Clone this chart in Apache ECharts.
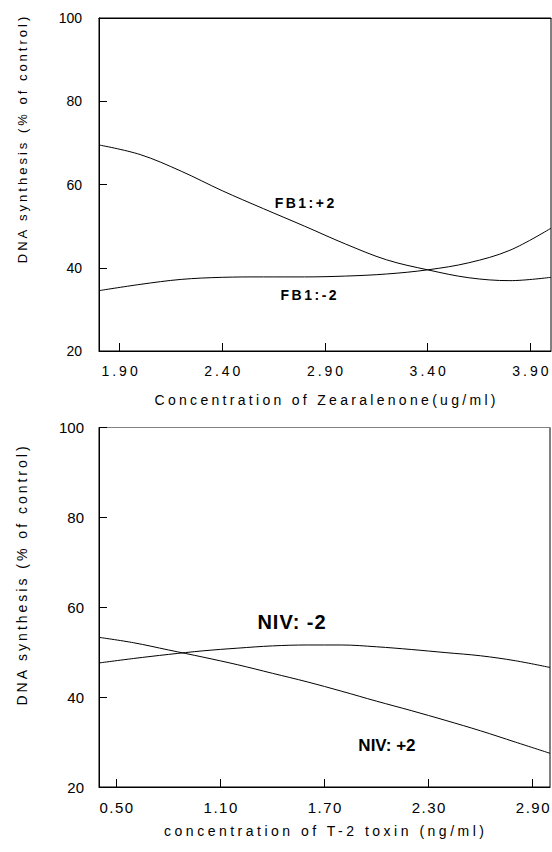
<!DOCTYPE html>
<html>
<head>
<meta charset="utf-8">
<script src="https://cdn.jsdelivr.net/npm/echarts@6/dist/echarts.min.js"></script>
<style>
html,body{margin:0;padding:0;background:#fff;}
#top{width:552px;height:420px;}
#bot{width:552px;height:432px;}
</style>
</head>
<body>
<div id="top"></div>
<div id="bot"></div>
<script>
// ---- data ----
const zeaX = [1.8, 2.0, 2.2, 2.4, 2.6, 2.8, 3.0, 3.2, 3.4, 3.6, 3.8, 4.0];
const fb1Plus2 = [69.5, 67.2, 63.2, 58.5, 54.2, 50.0, 45.7, 41.9, 39.5, 37.6, 36.9, 37.7];
const fb1Minus2 = [34.5, 36.0, 37.2, 37.7, 37.8, 37.8, 38.0, 38.5, 39.5, 41.2, 44.2, 49.5];
const zeaTicks = [1.9, 2.4, 2.9, 3.4, 3.9];

const t2X = [0.4, 0.6, 0.8, 1.0, 1.2, 1.4, 1.6, 1.8, 2.0, 2.2, 2.4, 2.6, 2.8, 3.0];
const nivMinus2 = [47.6, 48.6, 49.5, 50.3, 50.9, 51.4, 51.6, 51.6, 51.2, 50.6, 49.9, 49.2, 48.1, 46.6];
const nivPlus2 = [53.3, 52.1, 50.5, 48.9, 47.2, 45.3, 43.4, 41.3, 39.1, 37.0, 34.8, 32.5, 30.0, 27.5];
const t2Ticks = [0.5, 1.1, 1.7, 2.3, 2.9];

const yMin = 20, yMax = 100, yStep = 20;
const yTickLabels = ['20', '40', '60', '80', '100'];

const topNames = ['FB1:+2', 'FB1:-2'];
const topLabelAt = [[2.80, 55.6], [2.82, 33.5]];
const botNames = ['NIV: -2', 'NIV: +2'];
const botLabelAt = [[1.51, 56.7], [2.06, 29.3]];

const yTitle = 'DNA synthesis (% of control)';
const topXTitle = 'Concentration of Zearalenone(ug/ml)';
const botXTitle = 'concentration of T-2 toxin (ng/ml)';

// ---- helpers ----
const FONT = 'Liberation Sans, Arial, sans-serif';
function pairs(xs, ys){ return xs.map((x,i)=>[x, ys[i]]); }

function lineSeries(name, xs, ys, labelAt, labelFont){
  return {
    type: 'line', name: name, data: pairs(xs, ys), smooth: 0.35,
    showSymbol: false, symbol: 'none',
    lineStyle: {color: '#000', width: 1},
    markPoint: {
      symbol: 'circle', symbolSize: 1, silent: true,
      itemStyle: {color: 'rgba(0,0,0,0)'},
      label: Object.assign({show: true, position: 'inside', color: '#000', fontWeight: 'bold', fontFamily: FONT, formatter: name}, labelFont),
      data: [{coord: labelAt, name: name}]
    }
  };
}

function makeOption(cfg){
  return {
    animation: false,
    backgroundColor: '#fff',
    grid: Object.assign({show: true, borderColor: '#000', borderWidth: 1}, cfg.grid),
    xAxis: [{
      type: 'value', min: cfg.xMin, max: cfg.xMax,
      axisLine: {show: true, lineStyle: {color: '#000', width: 1}},
      axisTick: {show: true, inside: true, length: 8, customValues: cfg.ticks, lineStyle: {color: '#000'}},
      axisLabel: {show: true, customValues: cfg.ticks, formatter: v => v.toFixed(2), color: '#000', fontSize: cfg.tickFont, fontFamily: FONT, margin: cfg.xLabelMargin},
      splitLine: {show: false}
    }, {
      type: 'value', position: 'top', min: cfg.xMin, max: cfg.xMax,
      axisLine: {show: true, lineStyle: {color: cfg.topLineColor, width: 1.2}},
      axisTick: {show: false}, axisLabel: {show: false}, splitLine: {show: false}
    }],
    yAxis: {
      type: 'value', min: yMin, max: yMax, interval: yStep,
      axisLine: {show: true, lineStyle: {color: '#000', width: 1}},
      axisTick: {show: true, inside: true, length: 8, lineStyle: {color: '#000'}},
      axisLabel: {color: '#000', fontSize: cfg.tickFont, fontFamily: FONT, margin: cfg.yLabelMargin},
      splitLine: {show: false}
    },
    graphic: [{
      type: 'text', x: cfg.yTitlePos[0], y: cfg.yTitlePos[1], rotation: Math.PI/2,
      style: {text: yTitle, fill: '#000', font: cfg.yTitleFont + 'px ' + FONT, textAlign: 'center', textVerticalAlign: 'middle'}
    }, {
      type: 'text', x: cfg.xTitlePos[0], y: cfg.xTitlePos[1],
      style: {text: cfg.xTitle, fill: '#000', font: cfg.xTitleFont + 'px ' + FONT, textAlign: 'center', textVerticalAlign: 'middle'}
    }],
    series: cfg.series
  };
}

const topChart = echarts.init(document.getElementById('top'), null, {renderer: 'svg'});
topChart.setOption(makeOption({
  grid: {left: 99, top: 18, width: 452, height: 333},
  xMin: 1.8, xMax: 4.0, ticks: zeaTicks, tickFont: 14, xLabelMargin: 13, yLabelMargin: 17,
  topLineColor: '#000',
  yTitlePos: [22, 140], yTitleFont: 13,
  xTitle: topXTitle, xTitlePos: [325, 400], xTitleFont: 14,
  series: [
    lineSeries(topNames[0], zeaX, fb1Plus2, topLabelAt[0], {fontSize: 14}),
    lineSeries(topNames[1], zeaX, fb1Minus2, topLabelAt[1], {fontSize: 14})
  ]
}));

const botChart = echarts.init(document.getElementById('bot'), null, {renderer: 'svg'});
botChart.setOption(makeOption({
  grid: {left: 99, top: 7, width: 451, height: 360},
  xMin: 0.4, xMax: 3.0, ticks: t2Ticks, tickFont: 15, xLabelMargin: 13, yLabelMargin: 15,
  topLineColor: '#808080',
  yTitlePos: [22, 156], yTitleFont: 14,
  xTitle: botXTitle, xTitlePos: [324, 411], xTitleFont: 14,
  series: [
    lineSeries(botNames[0], t2X, nivMinus2, botLabelAt[0], {fontSize: 20}),
    lineSeries(botNames[1], t2X, nivPlus2, botLabelAt[1], {fontSize: 17})
  ]
}));

// letter spacing (style only) for rendered SVG text, keeping centred alignment
function applySpacing(dom, fn){
  dom.querySelectorAll('text').forEach(t => {
    if (t.dataset.spaced) return;
    const txt = t.textContent;
    const s = fn(txt);
    if (!s) return;
    const anchor = t.getAttribute('text-anchor') || 'start';
    if (anchor !== 'middle') return;
    let b0;
    try { b0 = t.getBBox(); } catch (e) { return; }
    if (!b0.width) return;
    const W = b0.width + (txt.length - 1) * s;
    const left = b0.x + b0.width / 2 - W / 2;
    t.style.letterSpacing = s + 'px';
    t.setAttribute('text-anchor', 'start');
    t.setAttribute('x', left.toFixed(2));
    t.dataset.spaced = '1';
  });
}
function spaceAll(){
  applySpacing(document.getElementById('top'), txt => {
    if (yTickLabels.indexOf(txt) >= 0) return 0;
    if (txt === yTitle) return 3;
    if (txt === topXTitle) return 3.3;
    if (topNames.indexOf(txt) >= 0) return 2.5;
    return 3;
  });
  applySpacing(document.getElementById('bot'), txt => {
    if (yTickLabels.indexOf(txt) >= 0) return 0;
    if (txt === yTitle) return 3;
    if (txt === botXTitle) return 3.5;
    if (txt === botNames[0]) return 1;
    if (txt === botNames[1]) return 0;
    return 1.5;
  });
}
spaceAll();
topChart.on('finished', spaceAll);
botChart.on('finished', spaceAll);
setTimeout(spaceAll, 50);
</script>
</body>
</html>
